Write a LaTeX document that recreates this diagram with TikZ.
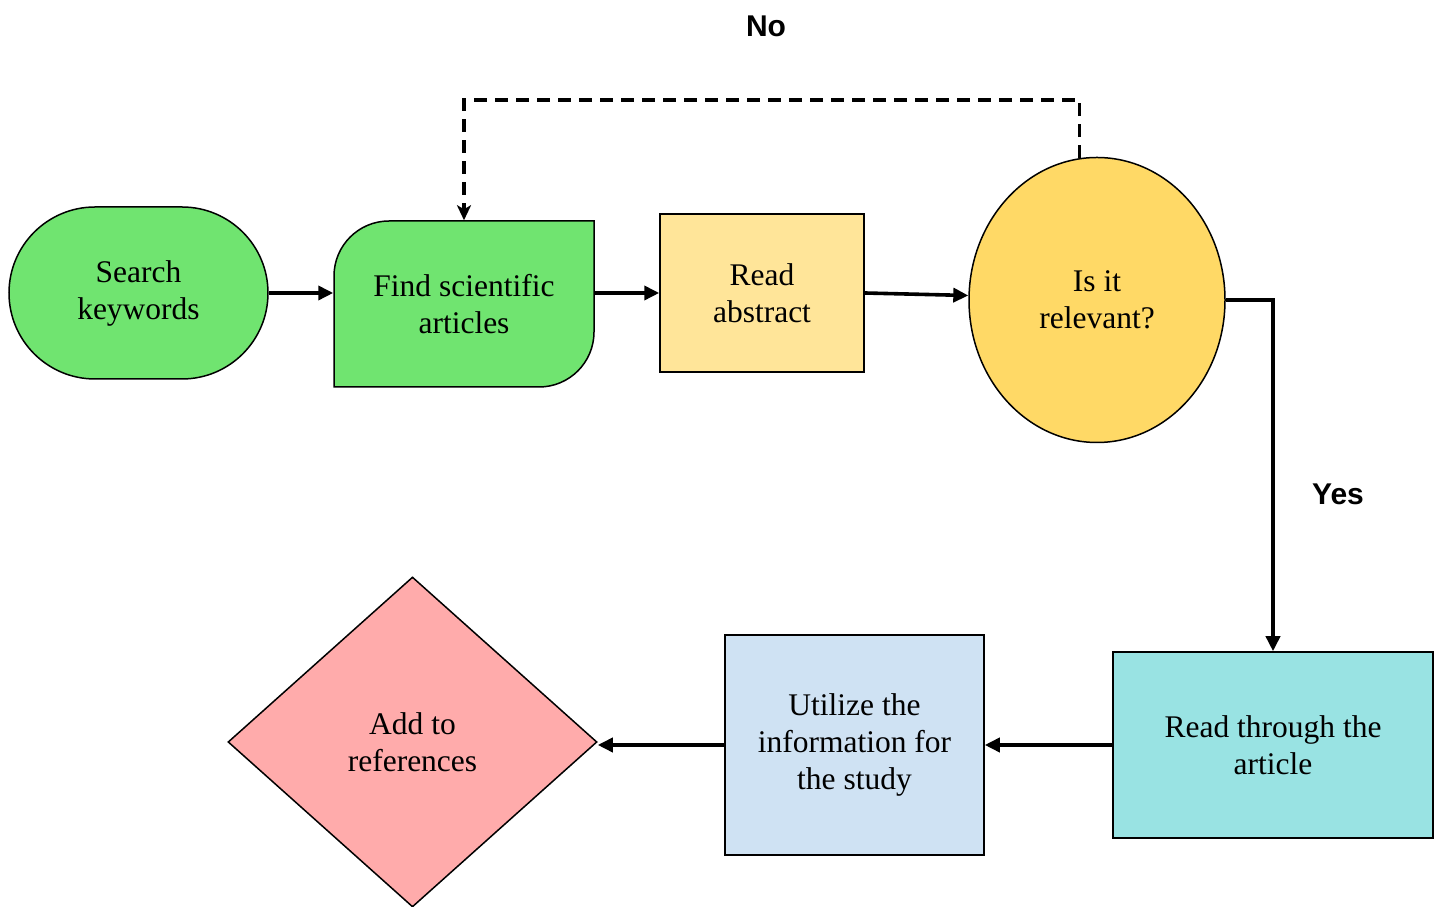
\documentclass[tikz,border=0pt]{standalone}
\usepackage{fontspec}
\setmainfont{Liberation Serif}
\newfontfamily\labelfont{Liberation Sans}
\usetikzlibrary{shapes.geometric,shapes.misc,arrows.meta,calc}
\definecolor{cgreen}{HTML}{70E470}
\definecolor{cabstract}{HTML}{FFE599}
\definecolor{crel}{HTML}{FFD966}
\definecolor{cthrough}{HTML}{99E3E3}
\definecolor{cutil}{HTML}{CFE2F3}
\definecolor{cpink}{HTML}{FFABAB}
\tikzset{
  box/.style={draw=black, line width=1.5pt, inner sep=0pt, align=center,
    font=\fontsize{31.5}{37}\selectfont},
  arr/.style={line width=3.6pt, -{Triangle[length=15pt,width=14pt]}},
  dasharr/.style={line width=3.6pt, dash pattern=on 13pt off 8pt, -{Stealth[length=15pt,width=14pt,inset=4pt]}},
  lbl/.style={font=\labelfont\bfseries\fontsize{30}{36}\selectfont}
}
\begin{document}
\begin{tikzpicture}[x=1pt,y=1pt]
\useasboundingbox (0,0) rectangle (1441,907);
% Find scientific articles shape
\draw[line width=1.5pt, fill=cgreen] (334,520) -- (334,631) arc[start angle=180, end angle=90, radius=55]
  -- (594,686) -- (594,575) arc[start angle=0, end angle=-90, radius=55] -- cycle;
\node[box, draw=none, minimum width=260, minimum height=166] (find) at (464,603) {Find scientific\\articles};
\node[box, rounded rectangle, fill=cgreen, minimum width=259, minimum height=172] (sk) at (138.5,614) {Search\\keywords};
\node[box, fill=cabstract, minimum width=204, minimum height=158] (ra) at (762,614) {Read\\abstract};
\node[box, ellipse, fill=crel, minimum width=256, minimum height=285] (rel) at (1097,607) {Is it\\relevant?};
\node[box, fill=cthrough, minimum width=320, minimum height=186] (rt) at (1273,162) {Read through the\\article};
\node[box, fill=cutil, minimum width=259, minimum height=220] (ut) at (854.5,162) {Utilize the\\information for\\the study};
\node[box, diamond, fill=cpink, minimum width=369, minimum height=330] (add) at (412.5,165) {Add to\\references};
\coordinate (dashy) at (464,807);
\draw[arr] (sk.east) -- (sk.east -| find.west);
\draw[arr] (find.east |- ra.west) -- (ra.west);
\draw[arr] (ra.east) -- (rel.178);
\draw[arr] (rel.east) -| (rt.north);
\draw[arr] (rt.west) -- (ut.east);
\draw[arr] (ut.west) -- (ut.west -| add.east);
\draw[dasharr] (rel.97) |- (dashy) -- (find.north);
\node[lbl] (no) at (766,881) {No};
\node[lbl] (yes) at (1338,413) {Yes};
\end{tikzpicture}
\end{document}
